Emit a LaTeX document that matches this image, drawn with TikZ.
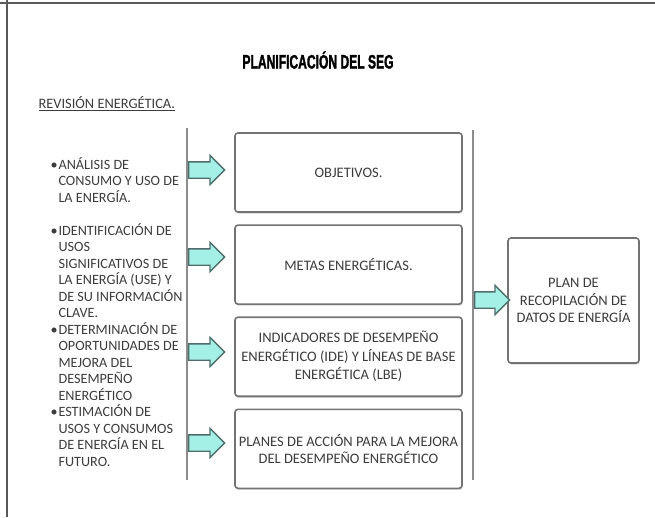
\documentclass[tikz,border=0pt]{standalone}
\usepackage{fontspec}
\setmainfont{Carlito}
\newfontfamily\titulofont[FakeStretch=0.62,BoldFeatures={FakeBold=1.5}]{Liberation Sans}
\usetikzlibrary{positioning,shapes.arrows,shadows}
\definecolor{aguamarina}{HTML}{A4F0E6}
\definecolor{bordeflecha}{HTML}{4E6E6C}
\definecolor{gristexto}{HTML}{3C3C3C}
\newcommand{\vineta}{\makebox[8pt][l]{\textbullet}}
\newcommand{\sangria}{\hspace*{8pt}}

\begin{document}
\begin{tikzpicture}[x=1pt,y=-1pt,
   caja/.style={draw=black!55,line width=1.6pt,rounded corners=3pt,fill=white,
      minimum width=227pt,minimum height=79pt,align=center,text=gristexto,
      font=\fontsize{14.5}{18.5}\selectfont,
      drop shadow={shadow xshift=0.6pt,shadow yshift=-1.6pt,opacity=0.35}},
   flecha/.style={single arrow,draw=bordeflecha,fill=aguamarina,line width=1.3pt,
      inner xsep=0pt,inner ysep=7.5pt,single arrow head extend=6.5pt,
      minimum height=36pt,anchor=tail},
   linea/.style={draw=black!45,line width=1.8pt}]
\useasboundingbox (0,0) rectangle (655,517);
\draw[black!65,line width=2.5pt] (0,3) -- (655,3);
\draw[black!65,line width=2.5pt] (7,0) -- (7,517);
\node (titulo) at (318,60) {\titulofont\bfseries\fontsize{19.5}{20}\selectfont PLANIFICACIÓN DEL SEG};
\node[anchor=west,text=gristexto,font=\fontsize{14.4}{16}\selectfont] (revision) at (35,104) {\underline{REVISIÓN ENERGÉTICA.}};
\node[anchor=north west,align=left,text=gristexto,font=\fontsize{14.2}{16.5}\selectfont] (revtexto) at (47,154)
   {\vineta ANÁLISIS DE\\ \sangria CONSUMO Y USO DE\\ \sangria LA ENERGÍA.\\[16.5pt]
    \vineta IDENTIFICACIÓN DE\\ \sangria USOS\\ \sangria SIGNIFICATIVOS DE\\ \sangria LA ENERGÍA (USE) Y\\ \sangria DE SU INFORMACIÓN\\ \sangria CLAVE.\\
    \vineta DETERMINACIÓN DE\\ \sangria OPORTUNIDADES DE\\ \sangria MEJORA DEL\\ \sangria DESEMPEÑO\\ \sangria ENERGÉTICO\\
    \vineta ESTIMACIÓN DE\\ \sangria USOS Y CONSUMOS\\ \sangria DE ENERGÍA EN EL\\ \sangria FUTURO.};
\coordinate (izqa) at (187,128);
\coordinate (izqb) at (187,480);
\coordinate (dera) at (473,130);
\coordinate (derb) at (473,480);
\draw[linea] (izqa) -- (izqb);
\draw[linea] (dera) -- (derb);
\node[caja] (objetivos) at (348.5,172.5) {OBJETIVOS.};
\node[caja,below=11.5pt of objetivos] (metas) {METAS ENERGÉTICAS.};
\node[caja,below=11.5pt of metas] (indicadores) {INDICADORES DE DESEMPEÑO\\ENERGÉTICO (IDE) Y LÍNEAS DE BASE\\ENERGÉTICA (LBE)};
\node[caja,below=11.5pt of indicadores,font=\fontsize{14.5}{17}\selectfont] (planes) {PLANES DE ACCIÓN PARA LA MEJORA\\DEL DESEMPEÑO ENERGÉTICO};
\node[caja,minimum width=131pt,minimum height=125pt,font=\fontsize{14.5}{17.5}\selectfont] (plan) at (573.5,300.5) {PLAN DE\\RECOPILACIÓN DE\\DATOS DE ENERGÍA};
\node[flecha] (f1) at (188,170) {};
\node[flecha] (f2) at (188,257) {};
\node[flecha] (f3) at (188,352) {};
\node[flecha] (f4) at (188,443) {};
\node[flecha,minimum height=35pt] (f5) at (474,300) {};
\end{tikzpicture}
\end{document}
